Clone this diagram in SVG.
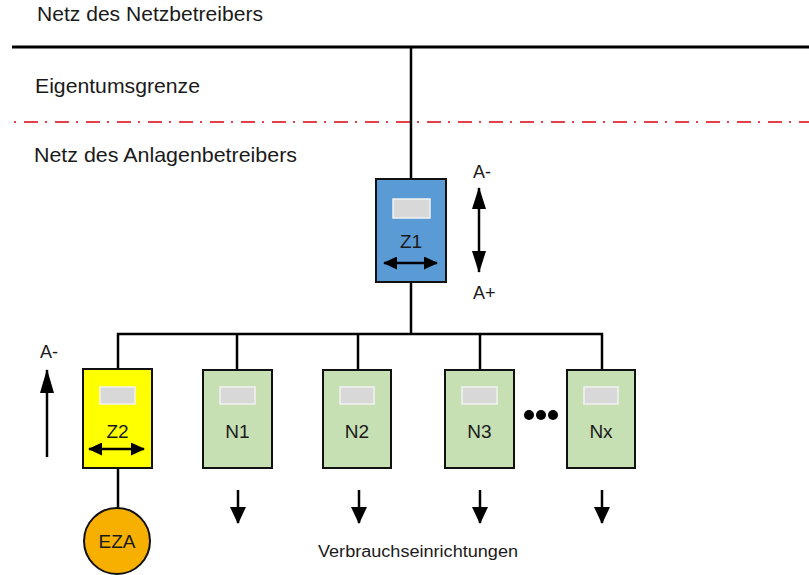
<svg xmlns="http://www.w3.org/2000/svg" width="809" height="575" viewBox="0 0 809 575">
<defs>
<style>
text{font-family:"Liberation Sans",Arial,sans-serif;fill:#1a1a1a}
.t{font-size:21px}
.lbl{font-size:19px;text-anchor:middle}
.ln{stroke:#000;stroke-width:2.5;fill:none}
.box{stroke:#111;stroke-width:2}
.disp{fill:#d8d8d8;stroke:#f2f2f2;stroke-width:1.5}
.green{fill:#c6e0b4}
</style>
<marker id="hs" markerUnits="userSpaceOnUse" viewBox="0 0 14 13" refX="13" refY="6.5" markerWidth="14" markerHeight="13" orient="auto-start-reverse"><path d="M0,0L14,6.5L0,13z" fill="#000"/></marker>
<marker id="hv" markerUnits="userSpaceOnUse" viewBox="0 0 22 14" refX="21" refY="7" markerWidth="22" markerHeight="14" orient="auto-start-reverse"><path d="M0,0L22,7L0,14z" fill="#000"/></marker>
<marker id="ha" markerUnits="userSpaceOnUse" viewBox="0 0 24 14" refX="23" refY="7" markerWidth="24" markerHeight="14" orient="auto"><path d="M0,0L24,7L0,14z" fill="#000"/></marker>
<marker id="hd" markerUnits="userSpaceOnUse" viewBox="0 0 17 16" refX="16" refY="8" markerWidth="17" markerHeight="16" orient="auto"><path d="M0,0L17,8L0,16z" fill="#000"/></marker>
</defs>
<rect width="809" height="575" fill="#fff"/>

<g id="labels">
<text class="t" x="37" y="21" textLength="226" lengthAdjust="spacingAndGlyphs">Netz des Netzbetreibers</text>
<text class="t" x="35" y="93" textLength="165" lengthAdjust="spacingAndGlyphs">Eigentumsgrenze</text>
<text class="t" x="34" y="162" textLength="263" lengthAdjust="spacingAndGlyphs">Netz des Anlagenbetreibers</text>
<text x="318" y="557" font-size="16" textLength="200" lengthAdjust="spacingAndGlyphs">Verbrauchseinrichtungen</text>
<text x="473" y="178" font-size="18">A-</text>
<text x="473" y="299" font-size="18">A+</text>
<text x="40" y="358" font-size="18">A-</text>
</g>

<g id="connectors">
<line x1="12" y1="47" x2="809" y2="47" stroke="#000" stroke-width="3"/>
<line x1="14" y1="122" x2="809" y2="122" stroke="#e3404a" stroke-width="2" stroke-dasharray="2 8 14 7"/>
<line class="ln" x1="411" y1="47" x2="411" y2="179"/>
<line class="ln" x1="411" y1="282" x2="411" y2="334"/>
<polyline class="ln" points="118,369 118,334 602,334 602,370"/>
<line class="ln" x1="237" y1="334" x2="237" y2="370"/>
<line class="ln" x1="358" y1="334" x2="358" y2="370"/>
<line class="ln" x1="480" y1="334" x2="480" y2="370"/>
<line class="ln" x1="118" y1="468" x2="118" y2="508"/>
<line class="ln" x1="479" y1="188" x2="479" y2="272" marker-start="url(#hv)" marker-end="url(#hv)"/>
<line class="ln" x1="47" y1="457" x2="47" y2="370" marker-end="url(#ha)"/>
<line class="ln" x1="238" y1="490" x2="238" y2="523" marker-end="url(#hd)"/>
<line class="ln" x1="359" y1="490" x2="359" y2="523" marker-end="url(#hd)"/>
<line class="ln" x1="480" y1="490" x2="480" y2="523" marker-end="url(#hd)"/>
<line class="ln" x1="602" y1="490" x2="602" y2="523" marker-end="url(#hd)"/>
</g>

<g id="Z1">
<rect class="box" x="376" y="179" width="70" height="103" fill="#5b9bd5"/>
<rect class="disp" x="393" y="199" width="37" height="19"/>
<text class="lbl" x="411" y="248">Z1</text>
<line class="ln" x1="384" y1="263" x2="437" y2="263" marker-start="url(#hs)" marker-end="url(#hs)"/>
</g>

<g id="Z2">
<rect class="box" x="83" y="369" width="69" height="99" fill="#ffff00"/>
<rect class="disp" x="100" y="387" width="35" height="17"/>
<text class="lbl" x="117.5" y="438">Z2</text>
<line class="ln" x1="89" y1="449" x2="144" y2="449" marker-start="url(#hs)" marker-end="url(#hs)"/>
</g>

<g id="N1">
<rect class="box green" x="203" y="370" width="69" height="98"/>
<rect class="disp" x="220" y="387" width="35" height="17"/>
<text class="lbl" x="237.5" y="438">N1</text>
</g>

<g id="N2">
<rect class="box green" x="323" y="370" width="68" height="98"/>
<rect class="disp" x="340" y="387" width="34" height="17"/>
<text class="lbl" x="357" y="438">N2</text>
</g>

<g id="N3">
<rect class="box green" x="445" y="370" width="69" height="98"/>
<rect class="disp" x="462" y="387" width="35" height="17"/>
<text class="lbl" x="479.5" y="438">N3</text>
</g>

<g id="dots">
<circle cx="529" cy="415" r="5" fill="#000"/>
<circle cx="541" cy="415" r="5" fill="#000"/>
<circle cx="553" cy="415" r="5" fill="#000"/>
</g>

<g id="Nx">
<rect class="box green" x="567" y="370" width="68" height="98"/>
<rect class="disp" x="584" y="387" width="34" height="17"/>
<text class="lbl" x="601" y="438">Nx</text>
</g>

<g id="EZA">
<circle cx="117" cy="541" r="33" fill="#f8b000" stroke="#111" stroke-width="2"/>
<text class="lbl" x="117" y="548">EZA</text>
</g>
</svg>
